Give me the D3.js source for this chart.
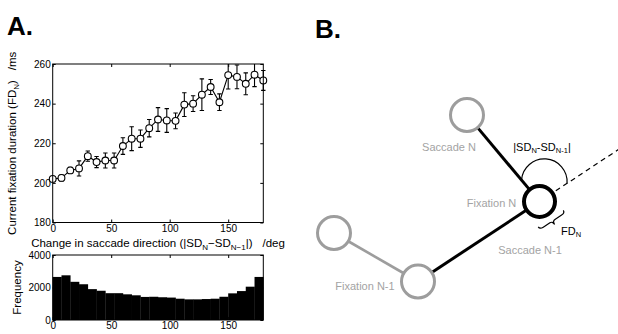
<!DOCTYPE html>
<html>
<head>
<meta charset="utf-8">
<script src="https://cdn.jsdelivr.net/npm/d3@7"></script>
<style>
  body { margin: 0; background: #fff; }
  svg { display: block; font-family: "Liberation Sans", Arial, sans-serif; }
</style>
</head>
<body>
<svg id="fig" width="618" height="334"></svg>
<script>
// panel A, top: mean current fixation duration per bin of direction change
const binCenters = [0, 7.5, 15, 22.5, 30, 37.5, 45, 52.5, 60, 67.5, 75, 82.5, 90,
  97.5, 105, 112.5, 120, 127.5, 135, 142.5, 150, 157.5, 165, 172.5, 180];
const meanFD = [202, 202.5, 206.3, 207.3, 213.5, 210.5, 211.3, 211.3, 218.6, 222.3, 222.3, 227.6, 232,
  231.5, 231.3, 239.5, 240, 244.5, 248.4, 240.7, 254.4, 253.5, 250, 254.6, 251.7];
const errFD = [1, 1.5, 1.5, 3.8, 2.6, 2.8, 3.8, 3.8, 4.2, 6, 4.4, 4.4, 6,
  6, 4, 6, 4, 8, 3.8, 4.2, 7, 6, 5.5, 6, 5];
const fdTicks = [180, 200, 220, 240, 260];
const dirTicks = [0, 50, 100, 150];

// panel A, bottom: histogram of direction change (7.5 deg bins)
const histEdges = d3.range(0, 181, 7.5);
const histCounts = [2650, 2750, 2350, 2200, 1900, 1800, 1650, 1650, 1580, 1520, 1420, 1430,
  1400, 1380, 1310, 1270, 1270, 1290, 1310, 1430, 1640, 1780, 2050, 2650];
const freqTicks = [0, 2000, 4000];

// panel B: schematic
const fixations = [
  { id: "prev2", x: 334, y: 233, r: 16.5, color: "#9d9d9d", w: 3 },
  { id: "prev", x: 418, y: 281.5, r: 16.5, color: "#9d9d9d", w: 3 },
  { id: "cur", x: 539.5, y: 201.5, r: 15.5, color: "#000", w: 4 },
  { id: "next", x: 467, y: 115, r: 16.5, color: "#9d9d9d", w: 3 }
];
const saccades = [
  { from: "prev2", to: "prev", color: "#9d9d9d", w: 2.6 },
  { from: "prev", to: "cur", color: "#000", w: 3 },
  { from: "cur", to: "next", color: "#000", w: 3 }
];
const diagramLabels = [
  { text: "Saccade N", x: 449, y: 147, color: "#a3a3a3" },
  { text: "Fixation N", x: 491.5, y: 203, color: "#a3a3a3" },
  { text: "Saccade N-1", x: 530, y: 250, color: "#a3a3a3" },
  { text: "Fixation N-1", x: 365, y: 286, color: "#a3a3a3" }
];

const svg = d3.select("#fig");
const fs = 11;

// generic MATLAB-like boxed axes with inward ticks
function boxAxes(x, y, xt, yt) {
  const g = svg.append("g").attr("font-size", fs);
  const [x0, x1] = x.range(), [y0, y1] = y.range();
  const f = d3.format("d");
  g.append("g").attr("transform", `translate(0,${y0})`)
    .call(d3.axisBottom(x).tickValues(xt).tickFormat(f).tickSizeInner(-3).tickSizeOuter(0).tickPadding(2));
  g.append("g").attr("transform", `translate(0,${y1})`)
    .call(d3.axisTop(x).tickValues(xt).tickSizeInner(-3).tickSizeOuter(0).tickFormat(""));
  g.append("g").attr("transform", `translate(${x0},0)`)
    .call(d3.axisLeft(y).tickValues(yt).tickFormat(f).tickSizeInner(-3).tickSizeOuter(0).tickPadding(2));
  g.append("g").attr("transform", `translate(${x1},0)`)
    .call(d3.axisRight(y).tickValues(yt).tickSizeInner(-3).tickSizeOuter(0).tickFormat(""));
  g.selectAll(".domain").remove();
  g.selectAll("text").attr("font-family", "Liberation Sans, Arial, sans-serif").attr("fill", "#000");
  g.selectAll("line").attr("stroke", "#000");
  return g;
}

// ---- top panel
const x = d3.scaleLinear().domain([0, 180]).range([52.7, 263.3]);
const y = d3.scaleLinear().domain([180, 260]).range([222.5, 64]);

svg.append("defs").append("clipPath").attr("id", "clipTop")
  .append("rect").attr("x", 30).attr("y", y(260)).attr("width", 260).attr("height", y(180) - y(260));

boxAxes(x, y, dirTicks, fdTicks);

const errG = svg.append("g").attr("clip-path", "url(#clipTop)")
  .attr("stroke", "#000").attr("stroke-width", 1.1);
binCenters.forEach((c, i) => {
  const lo = y(meanFD[i] - errFD[i]), hi = y(meanFD[i] + errFD[i]);
  errG.append("line").attr("x1", x(c)).attr("x2", x(c)).attr("y1", lo).attr("y2", hi);
  errG.append("line").attr("x1", x(c) - 2.2).attr("x2", x(c) + 2.2).attr("y1", lo).attr("y2", lo);
  errG.append("line").attr("x1", x(c) - 2.2).attr("x2", x(c) + 2.2).attr("y1", hi).attr("y2", hi);
});

svg.append("path")
  .datum(binCenters.map((c, i) => [c, meanFD[i]]))
  .attr("fill", "none").attr("stroke", "#000").attr("stroke-width", 1.1)
  .attr("d", d3.line().x(d => x(d[0])).y(d => y(d[1])));

svg.append("g").selectAll("circle")
  .data(binCenters.map((c, i) => [c, meanFD[i]]))
  .join("circle")
  .attr("cx", d => x(d[0])).attr("cy", d => y(d[1])).attr("r", 3.4)
  .attr("fill", "#fff").attr("stroke", "#000").attr("stroke-width", 1.1);

svg.append("rect").attr("x", x(0)).attr("y", y(260)).attr("width", x(180) - x(0))
  .attr("height", y(180) - y(260)).attr("fill", "none").attr("stroke", "#000").attr("stroke-width", 1);

// y label with subscript
const yl = svg.append("text").attr("font-size", 11.5).attr("text-anchor", "middle")
  .attr("transform", `translate(16,${(y(180) + y(260)) / 2}) rotate(-90)`);
yl.append("tspan").text("Current fixation duration (FD");
yl.append("tspan").attr("font-size", 8).attr("dy", 3).text("N");
yl.append("tspan").attr("dy", -3).text(")");
yl.append("tspan").attr("dx", 10).text("/ms");

// x label with subscripts
const xl = svg.append("text").attr("font-size", 11.5).attr("text-anchor", "middle")
  .attr("x", (x(0) + x(180)) / 2).attr("y", 247);
xl.append("tspan").text("Change in saccade direction (|SD");
xl.append("tspan").attr("font-size", 8).attr("dy", 3).text("N");
xl.append("tspan").attr("dy", -3).text("\u2212SD");
xl.append("tspan").attr("font-size", 8).attr("dy", 3).text("N\u22121");
xl.append("tspan").attr("dy", -3).text("|)");
xl.append("tspan").attr("dx", 10).text("/deg");

// ---- histogram
const yh = d3.scaleLinear().domain([0, 4000]).range([320, 255]);
svg.append("g").selectAll("rect")
  .data(histCounts)
  .join("rect")
  .attr("x", (d, i) => x(histEdges[i]))
  .attr("width", (d, i) => x(histEdges[i + 1]) - x(histEdges[i]) + 0.3)
  .attr("y", d => yh(d)).attr("height", d => yh(0) - yh(d))
  .attr("fill", "#000");
boxAxes(x, yh, dirTicks, freqTicks);
svg.append("rect").attr("x", x(0)).attr("y", yh(4000)).attr("width", x(180) - x(0))
  .attr("height", yh(0) - yh(4000)).attr("fill", "none").attr("stroke", "#000").attr("stroke-width", 1);
svg.append("text").attr("font-size", 11.5).attr("text-anchor", "middle")
  .attr("transform", `translate(21,${(yh(0) + yh(4000)) / 2}) rotate(-90)`).text("Frequency");

// panel letters
svg.append("text").attr("x", 7).attr("y", 35).attr("font-size", 26).attr("font-weight", "bold").text("A.");
svg.append("text").attr("x", 315).attr("y", 38).attr("font-size", 26).attr("font-weight", "bold").text("B.");

// ---- panel B
const byId = Object.fromEntries(fixations.map(f => [f.id, f]));
const cur = byId.cur, prev = byId.prev, next = byId.next;
const unit = (a, b) => { const dx = b.x - a.x, dy = b.y - a.y, l = Math.hypot(dx, dy); return [dx / l, dy / l]; };

// dashed extension of saccade N-1
const dirPrev = unit(prev, cur);
const dashStart = cur.r + 4;
svg.append("line")
  .attr("x1", cur.x + dirPrev[0] * dashStart).attr("y1", cur.y + dirPrev[1] * dashStart)
  .attr("x2", cur.x + dirPrev[0] * 110).attr("y2", cur.y + dirPrev[1] * 110)
  .attr("stroke", "#000").attr("stroke-width", 1.2).attr("stroke-dasharray", "5,4");

saccades.forEach(s => {
  const a = byId[s.from], b = byId[s.to], [ux, uy] = unit(a, b);
  svg.append("line")
    .attr("x1", a.x + ux * a.r).attr("y1", a.y + uy * a.r)
    .attr("x2", b.x - ux * b.r).attr("y2", b.y - uy * b.r)
    .attr("stroke", s.color).attr("stroke-width", s.w);
});

svg.append("g").selectAll("circle").data(fixations).join("circle")
  .attr("cx", d => d.x).attr("cy", d => d.y).attr("r", d => d.r)
  .attr("fill", "#fff").attr("stroke", d => d.color).attr("stroke-width", d => d.w);

// angle arc between saccade N and extension of saccade N-1
const dirNext = unit(cur, next);
const pA = [cur.x + dirNext[0] * 28, cur.y + dirNext[1] * 28];
const pB = [cur.x + dirPrev[0] * 33, cur.y + dirPrev[1] * 33];
svg.append("path")
  .attr("d", `M${pA[0]},${pA[1]} A1,1 0 0 1 ${pB[0]},${pB[1]}`)
  .attr("fill", "none").attr("stroke", "#000").attr("stroke-width", 1.2);

// brace for fixation duration
const ang = Math.atan2(dirPrev[1], dirPrev[0]) * 180 / Math.PI;
const off = cur.r + 5;
svg.append("path")
  .attr("transform", `translate(${cur.x + (-dirPrev[1]) * off},${cur.y + dirPrev[0] * off}) rotate(${ang})`)
  .attr("d", "M-15,0 Q-15,3 -11,3 L-3,3 Q0,3 0,7 Q0,3 3,3 L11,3 Q15,3 15,0")
  .attr("fill", "none").attr("stroke", "#000").attr("stroke-width", 1.2);

const dl = svg.append("g").attr("font-size", 11).attr("text-anchor", "middle");
diagramLabels.forEach(l => {
  dl.append("text").attr("x", l.x).attr("y", l.y).attr("dy", "0.35em").attr("fill", l.color).text(l.text);
});
const sdl = dl.append("text").attr("x", 542).attr("y", 147).attr("dy", "0.35em").attr("fill", "#000");
sdl.append("tspan").text("|SD");
sdl.append("tspan").attr("font-size", 7.5).attr("dy", 2.5).text("N");
sdl.append("tspan").attr("dy", -2.5).text("-SD");
sdl.append("tspan").attr("font-size", 7.5).attr("dy", 2.5).text("N-1");
sdl.append("tspan").attr("dy", -2.5).text("|");
const fdl = dl.append("text").attr("x", 571).attr("y", 231).attr("dy", "0.35em").attr("fill", "#000");
fdl.append("tspan").text("FD");
fdl.append("tspan").attr("font-size", 7.5).attr("dy", 2.5).text("N");
</script>
</body>
</html>
